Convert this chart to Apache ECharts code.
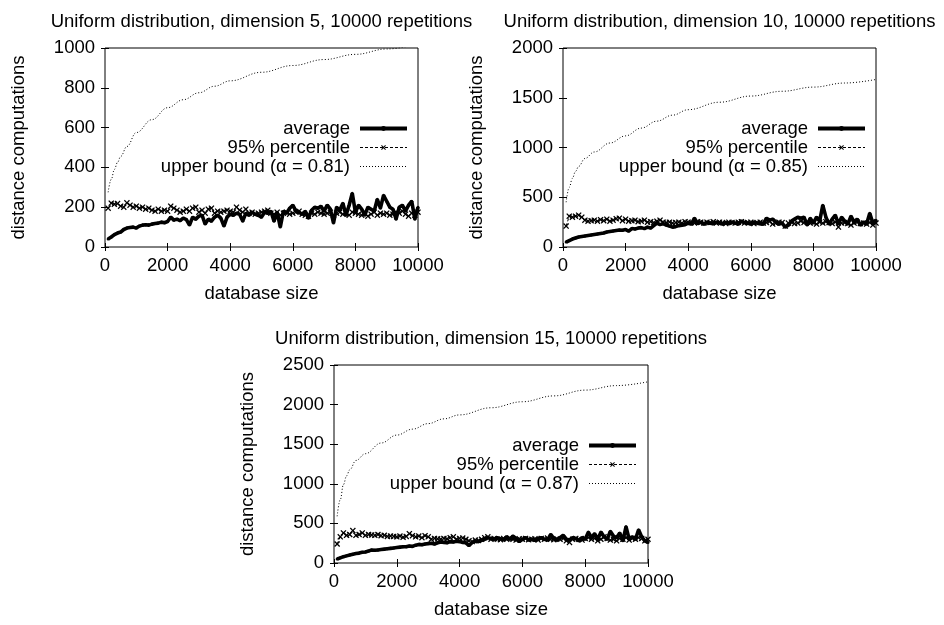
<!DOCTYPE html>
<html>
<head>
<meta charset="utf-8">
<script src="https://cdn.jsdelivr.net/npm/echarts@6/dist/echarts.min.js"></script>
<style>
  html, body { margin: 0; padding: 0; background: #fff; }
  #main { width: 944px; height: 625px; }
</style>
</head>
<body>
<div id="main"></div>
<script>
// database sizes of the measured points
const sizes = [100,200,300,400,500,600,700,800,900,1000,1100,1200,1300,1400,1500,1600,1700,1800,1900,2000,
  2100,2200,2300,2400,2500,2600,2700,2800,2900,3000,3100,3200,3300,3400,3500,3600,3700,3800,3900,4000,
  4100,4200,4300,4400,4500,4600,4700,4800,4900,5000,5100,5200,5300,5400,5500,5600,5700,5800,5900,6000,
  6100,6200,6300,6400,6500,6600,6700,6800,6900,7000,7100,7200,7300,7400,7500,7600,7700,7800,7900,8000,
  8100,8200,8300,8400,8500,8600,8700,8800,8900,9000,9100,9200,9300,9400,9500,9600,9700,9800,9900,10000];

// dimension 5
const avgD5 = [40,50,62,70,75,88,95,98,100,95,105,110,112,110,115,118,120,125,122,128,
  150,135,140,132,145,138,110,150,140,155,160,115,140,130,150,160,145,105,150,165,
  160,170,165,130,170,160,175,165,160,150,175,170,180,130,175,100,180,170,195,210,
  180,175,165,180,145,185,200,195,205,180,210,190,120,200,185,220,160,210,270,175,
  210,190,160,200,190,180,240,195,260,230,200,190,140,200,210,180,210,230,140,200];
const p95D5 = [195,220,215,218,205,200,222,210,200,205,195,200,190,195,185,180,190,180,185,180,
  205,195,185,175,180,190,180,195,200,175,185,170,190,195,170,180,175,180,185,180,
  175,200,185,175,190,170,175,165,170,175,180,185,170,165,175,160,170,175,165,170,
  175,180,165,160,155,170,165,175,170,165,170,175,160,170,175,165,170,160,175,170,
  165,160,170,155,165,175,160,170,165,170,160,165,175,170,180,165,155,170,160,175];

// dimension 10
const avgD10 = [50,65,80,90,100,105,110,115,120,125,130,135,140,150,155,160,165,170,168,175,
  160,185,180,190,195,185,200,190,215,240,225,235,220,210,200,205,215,220,225,240,
  230,290,235,250,230,245,240,235,250,240,230,245,235,250,240,230,260,245,240,230,
  250,240,235,230,290,270,280,250,230,240,200,220,260,280,300,290,300,220,290,240,
  300,260,420,300,230,280,320,230,300,260,230,310,250,280,220,250,230,340,240,270];
const p95D10 = [210,310,300,310,320,300,270,260,265,270,260,275,265,280,260,270,285,290,265,280,
  260,265,270,255,260,270,250,255,245,260,270,250,245,250,240,245,250,240,255,250,
  245,240,255,250,240,250,245,255,240,250,245,235,250,245,240,250,255,240,245,250,
  235,245,250,240,245,255,230,240,250,245,210,240,250,235,240,260,245,250,240,245,
  230,250,240,255,245,235,250,200,240,245,235,220,240,250,235,240,230,245,220,240];

// dimension 15
const avgD15 = [50,65,80,90,100,110,120,125,135,140,150,165,160,165,170,175,180,185,190,195,
  200,205,205,215,210,225,235,230,240,245,250,240,255,265,260,255,270,265,275,270,
  260,255,220,260,275,270,285,300,320,310,300,320,305,295,330,300,340,310,270,300,
  320,290,300,285,310,320,300,290,360,310,290,320,350,300,290,320,310,280,320,300,
  390,320,370,300,390,330,300,400,340,320,380,280,460,300,330,300,420,330,280,260];
const p95D15 = [240,330,380,350,360,410,350,360,380,350,360,355,350,360,345,350,335,340,335,330,
  340,325,335,370,345,330,340,320,345,330,300,310,305,300,310,305,320,330,300,310,
  315,300,280,270,290,285,300,320,330,300,310,300,295,310,300,315,300,290,305,300,
  310,295,300,305,290,310,300,315,300,295,305,300,310,280,260,300,310,300,290,310,
  320,300,310,280,300,330,310,290,300,280,310,300,320,290,310,300,320,310,280,300];

// upper bound curves, read at these sizes
const boundSizes = [100,200,300,400,500,700,1000,1500,2000,2500,3000,3500,4000,5000,6000,7000,8000,9000,10000];
const boundD5  = [275,340,390,425,455,505,575,640,700,740,775,808,835,878,912,942,968,995,1020];
const boundD10 = [450,600,690,760,810,890,955,1045,1117,1195,1265,1325,1380,1455,1517,1565,1607,1648,1684];
const boundD15 = [590,800,990,1100,1176,1295,1380,1515,1615,1690,1760,1820,1870,1960,2036,2110,2183,2240,2288];

const titles = ['Uniform distribution, dimension 5, 10000 repetitions',
  'Uniform distribution, dimension 10, 10000 repetitions',
  'Uniform distribution, dimension 15, 10000 repetitions'];
const boundNames = ['upper bound (\u03b1 = 0.81)', 'upper bound (\u03b1 = 0.85)', 'upper bound (\u03b1 = 0.87)'];
const yMax = [1000, 2000, 2500];
const yStep = [200, 500, 500];

const FONT = '"Liberation Sans", Arial, Helvetica, sans-serif';
const grids = [
  {left: 105, top: 48, width: 313, height: 199},
  {left: 563, top: 48, width: 313, height: 199},
  {left: 334, top: 365, width: 314, height: 198}
];
const legendPos = [
  {right: 535, top: 119},
  {right: 77, top: 119},
  {right: 306, top: 436}
];
const XMARK = 'path://M0,1.5L1.5,0L5,3.5L8.5,0L10,1.5L6.5,5L10,8.5L8.5,10L5,6.5L1.5,10L0,8.5L3.5,5Z';

function zip(xs, ys) {
  return xs.map(function (x, i) { return [x, ys[i]]; });
}
function plain(v) { return String(v); }

const avgs = [avgD5, avgD10, avgD15];
const p95s = [p95D5, p95D10, p95D15];
const bounds = [boundD5, boundD10, boundD15];

let option = {
  backgroundColor: '#fff',
  animation: false,
  textStyle: {fontFamily: FONT},
  title: [], grid: [], xAxis: [], yAxis: [], legend: [], series: []
};

for (let i = 0; i < 3; i++) {
  let g = grids[i];
  option.title.push({
    text: titles[i], left: g.left + g.width / 2, textAlign: 'center',
    top: i < 2 ? 12 : 329, padding: 0,
    textStyle: {fontFamily: FONT, fontSize: 18.5, fontWeight: 'normal', color: '#000'}
  });
  option.grid.push({
    left: g.left, top: g.top, width: g.width, height: g.height,
    show: true, borderColor: '#000', borderWidth: 1, backgroundColor: 'transparent'
  });
  let tick = {show: true, inside: true, length: 4, lineStyle: {color: '#000', width: 1}};
  // bottom + mirrored top
  option.xAxis.push({
    type: 'value', gridIndex: i, min: 0, max: 10000, interval: 2000,
    name: 'database size', nameLocation: 'middle', nameGap: 37,
    nameTextStyle: {fontFamily: FONT, fontSize: 18.5, color: '#000'},
    axisLine: {show: false}, axisTick: tick, splitLine: {show: false},
    axisLabel: {fontFamily: FONT, fontSize: 18.5, color: '#000', margin: 9, formatter: plain}
  });
  option.xAxis.push({
    type: 'value', gridIndex: i, position: 'top', min: 0, max: 10000, interval: 2000,
    axisLine: {show: false}, axisTick: tick, splitLine: {show: false}, axisLabel: {show: false}
  });
  // left + mirrored right
  option.yAxis.push({
    type: 'value', gridIndex: i, min: 0, max: yMax[i], interval: yStep[i],
    name: 'distance computations', nameLocation: 'middle', nameGap: 77,
    nameTextStyle: {fontFamily: FONT, fontSize: 18.5, color: '#000'},
    axisLine: {show: false}, axisTick: tick, splitLine: {show: false},
    axisLabel: {fontFamily: FONT, fontSize: 18.5, color: '#000', margin: 10, formatter: plain}
  });
  option.yAxis.push({
    type: 'value', gridIndex: i, position: 'right', min: 0, max: yMax[i], interval: yStep[i],
    axisLine: {show: false}, axisTick: tick, splitLine: {show: false}, axisLabel: {show: false}
  });

  option.legend.push({
    data: [
      {name: 'average', lineStyle: {width: 4}},
      {name: '95% percentile', lineStyle: {width: 1}},
      {name: boundNames[i], lineStyle: {width: 1}}
    ],
    orient: 'vertical', align: 'right', right: legendPos[i].right, top: legendPos[i].top,
    padding: 0, itemWidth: 47, itemHeight: 6, itemGap: 0, selectedMode: false,
    textStyle: {fontFamily: FONT, fontSize: 18.5, color: '#000', lineHeight: 19, padding: [0, 5, 0, 0]}
  });

  option.series.push({
    name: 'average', type: 'line', xAxisIndex: 2 * i, yAxisIndex: 2 * i,
    data: zip(sizes, avgs[i]), symbol: 'circle', symbolSize: 3,
    lineStyle: {color: '#000', width: 3.6}, itemStyle: {color: '#000'}, z: 4
  });
  option.series.push({
    name: '95% percentile', type: 'line', xAxisIndex: 2 * i, yAxisIndex: 2 * i,
    data: zip(sizes, p95s[i]), symbol: XMARK, symbolSize: 6,
    lineStyle: {color: '#000', width: 1, type: [3, 2]}, itemStyle: {color: '#000'}, z: 3
  });
  option.series.push({
    name: boundNames[i], type: 'line', xAxisIndex: 2 * i, yAxisIndex: 2 * i,
    data: zip(boundSizes, bounds[i]), showSymbol: false, symbol: 'none',
    smooth: 0.4, smoothMonotone: 'x', clip: true,
    lineStyle: {color: '#000', width: 1, type: [1, 2]}, itemStyle: {color: 'rgba(0,0,0,0)'}, z: 2
  });
}

let myChart = echarts.init(document.getElementById('main'));
myChart.setOption(option);
</script>
</body>
</html>
